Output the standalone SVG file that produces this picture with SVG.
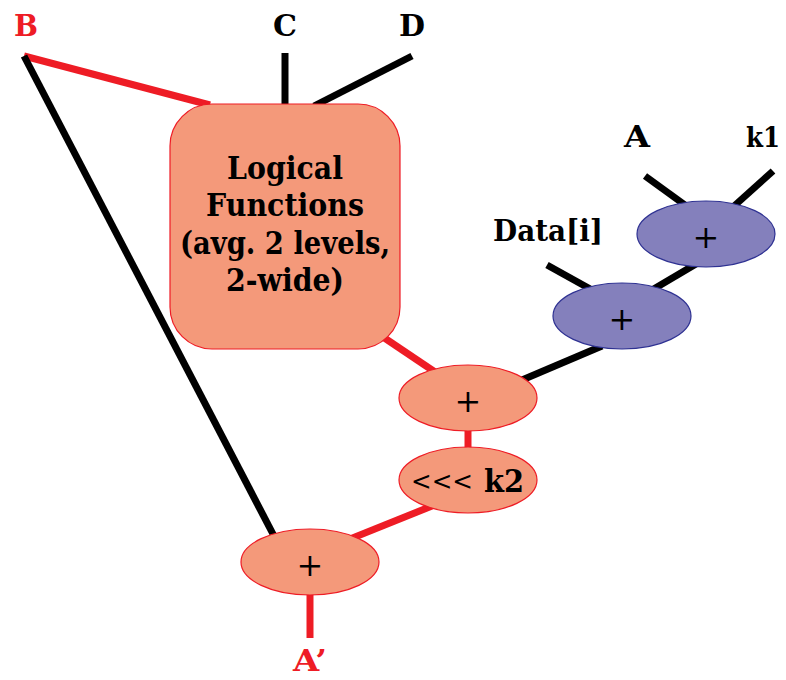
<svg xmlns="http://www.w3.org/2000/svg" width="786" height="680" viewBox="0 0 786 680">
<style>
text{font-family:'DejaVu Serif',serif}
.lbl{font-weight:bold;font-size:30px;text-anchor:middle}
.red{fill:#EE1C25}
.blk{fill:#000}
.nodeS{fill:#F4997A;stroke:#EE1C25;stroke-width:1.2}
.nodeB{fill:#8480BC;stroke:#2E3192;stroke-width:1.2}
.op{font-size:32px;text-anchor:middle;fill:#000}
.ct{font-weight:bold;font-size:32px;text-anchor:middle;fill:#000}
.lr{stroke:#EE1C25;stroke-width:7;fill:none}
.lk{stroke:#000;stroke-width:7;fill:none}
</style>
<rect width="786" height="680" fill="#fff"/>
<g id="connectors">
<line class="lr" x1="24" y1="56" x2="210" y2="105"/>
<line class="lk" x1="24" y1="56" x2="274" y2="536"/>
<line class="lk" x1="285" y1="53" x2="285" y2="105"/>
<line class="lk" x1="412" y1="56" x2="314" y2="106"/>
<line class="lr" x1="380" y1="335" x2="435" y2="372"/>
<line class="lk" x1="522" y1="380" x2="602" y2="346"/>
<line class="lk" x1="547" y1="265" x2="592" y2="290"/>
<line class="lk" x1="645" y1="176" x2="685" y2="205"/>
<line class="lk" x1="773" y1="171" x2="733" y2="207"/>
<line class="lk" x1="652" y1="290" x2="696" y2="264"/>
<line class="lr" x1="468" y1="428" x2="468" y2="450"/>
<line class="lr" x1="432" y1="506" x2="350" y2="539"/>
<line class="lr" x1="310" y1="594" x2="310" y2="638"/>
</g>
<g id="labels">
<text class="lbl red" x="26" y="36" textLength="24" lengthAdjust="spacingAndGlyphs">B</text>
<text class="lbl blk" x="285" y="36" textLength="24" lengthAdjust="spacingAndGlyphs">C</text>
<text class="lbl blk" x="412" y="36" textLength="26" lengthAdjust="spacingAndGlyphs">D</text>
<text class="lbl blk" x="637" y="147" textLength="26" lengthAdjust="spacingAndGlyphs">A</text>
<text class="lbl blk" x="763" y="147" style="font-size:28px" textLength="34" lengthAdjust="spacingAndGlyphs">k1</text>
<text class="lbl blk" x="548" y="241" textLength="110" lengthAdjust="spacingAndGlyphs">Data[i]</text>
<text class="lbl red" x="310" y="671" textLength="34" lengthAdjust="spacingAndGlyphs">A’</text>
</g>
<g id="logical">
<rect class="nodeS" x="170" y="104" width="230" height="245" rx="42" ry="42"/>
<text class="ct" x="285" y="179" textLength="116" lengthAdjust="spacingAndGlyphs">Logical</text>
<text class="ct" x="285" y="216" textLength="158" lengthAdjust="spacingAndGlyphs">Functions</text>
<text class="ct" x="285" y="254" textLength="210" lengthAdjust="spacingAndGlyphs">(avg. 2 levels,</text>
<text class="ct" x="285" y="291" textLength="118" lengthAdjust="spacingAndGlyphs">2-wide)</text>
</g>
<g id="add1">
<ellipse class="nodeS" cx="468" cy="398" rx="69" ry="33"/>
<text class="op" x="468" y="412">+</text>
</g>
<g id="rot">
<ellipse class="nodeS" cx="468" cy="480" rx="69" ry="33"/>
<text class="op" x="411" y="490" style="text-anchor:start;font-size:26px" textLength="62" lengthAdjust="spacingAndGlyphs">&lt;&lt;&lt;</text>
<text class="op" x="484" y="492" style="text-anchor:start;font-weight:bold" textLength="40" lengthAdjust="spacingAndGlyphs">k2</text>
</g>
<g id="add2">
<ellipse class="nodeS" cx="310" cy="562" rx="69" ry="33"/>
<text class="op" x="310" y="576">+</text>
</g>
<g id="addData">
<ellipse class="nodeB" cx="622" cy="316" rx="69" ry="33"/>
<text class="op" x="622" y="330">+</text>
</g>
<g id="addA">
<ellipse class="nodeB" cx="706" cy="234" rx="69" ry="33"/>
<text class="op" x="706" y="248">+</text>
</g>
</svg>
